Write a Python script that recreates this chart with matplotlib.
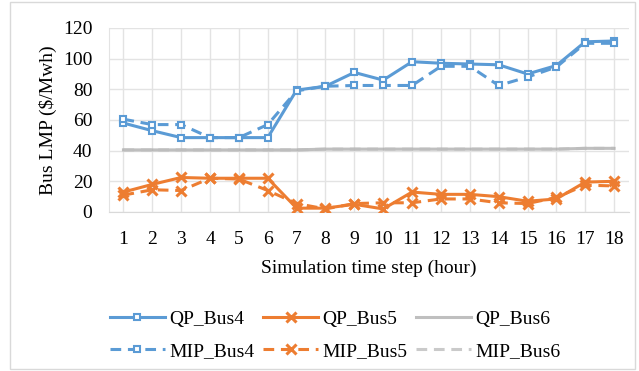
import matplotlib
matplotlib.use("Agg")
import matplotlib.pyplot as plt
import numpy as np

plt.rcParams['font.family'] = ['Liberation Serif', 'DejaVu Serif']

hours = list(range(1, 19))
qp_bus4 = [58, 53, 48.5, 48.5, 48.5, 48.5, 79.5, 82, 91, 86, 98, 97, 96.5, 96, 90, 95.5, 111, 111.5]
mip_bus4 = [60.5, 57, 57, 48.5, 48.5, 57, 79, 82, 82.5, 82.5, 82.5, 95, 95, 82.5, 88, 94.5, 110, 110]
qp_bus5 = [13, 18, 22.5, 22, 22, 22, 2.5, 2.5, 5, 2, 13, 11.5, 11.5, 10, 7, 8.5, 19.5, 20]
mip_bus5 = [11, 14.5, 14, 22, 21.5, 14, 5.5, 2, 5.5, 6, 6, 8.5, 8.5, 6, 5.5, 9.5, 17.5, 17]
qp_bus6 = [40.5] * 7 + [41] * 9 + [41.5] * 2
mip_bus6 = [40.5] * 7 + [41] * 9 + [41.5] * 2

blue, orange, grey = '#5b9bd5', '#ed7d31', '#a5a5a5'
dash = (0, (3.5, 2.2))
fs = 14

fig = plt.figure(figsize=(6.39, 3.71), dpi=100)
ax = fig.add_axes([0.1706, 0.4286, 0.813, 0.496])

lw = 2.2
h_qp4, = ax.plot(hours, qp_bus4, color=blue, lw=lw, marker='s', ms=5,
                 mfc='white', mec=blue, mew=1.5, label='QP_Bus4', zorder=4)
h_qp5, = ax.plot(hours, qp_bus5, color=orange, lw=lw, marker='x', ms=7,
                 mew=2.2, label='QP_Bus5', zorder=4)
h_qp6, = ax.plot(hours, qp_bus6, color=grey, lw=lw, alpha=0.7,
                 label='QP_Bus6', zorder=3)
h_mip4, = ax.plot(hours, mip_bus4, color=blue, lw=lw, ls=dash, marker='s', ms=5,
                  mfc='white', mec=blue, mew=1.5, label='MIP_Bus4', zorder=5)
h_mip5, = ax.plot(hours, mip_bus5, color=orange, lw=lw, ls=dash, marker='x', ms=7,
                  mew=2.2, label='MIP_Bus5', zorder=5)
h_mip6, = ax.plot(hours, mip_bus6, color='#bdbdbd', lw=lw, ls=dash, alpha=0.8,
                  label='MIP_Bus6', zorder=3)

ax.set_xlim(0.5, 18.5)
ax.set_ylim(0, 120)
ax.set_xticks(hours)
ax.set_yticks(np.arange(0, 121, 20))
ax.grid(True, color='#e3e3e3', lw=1)
ax.set_axisbelow(True)
for s in ['top', 'right']:
    ax.spines[s].set_visible(False)
ax.spines['left'].set_color('#e3e3e3')
ax.spines['bottom'].set_color('#d9d9d9')
ax.tick_params(length=0, labelsize=fs)
ax.tick_params(axis='y', pad=12)
ax.tick_params(axis='x', pad=14)
ax.set_xlabel('Simulation time step (hour)', fontsize=fs, labelpad=8)
ax.set_ylabel('Bus LMP ($/Mwh)', fontsize=fs, labelpad=4)

handles = [h_qp4, h_mip4, h_qp5, h_mip5, h_qp6, h_mip6]
fig.legend(handles, [h.get_label() for h in handles], ncol=3, loc='center',
           bbox_to_anchor=(0.525, 0.097), frameon=False, fontsize=fs,
           handlelength=2.8, columnspacing=0.45, handletextpad=0.25,
           labelspacing=0.75)

# chart area border
fig.patches.append(plt.Rectangle((0.015, 0.006), 0.978, 0.988, transform=fig.transFigure,
                                 fill=False, edgecolor='#d9d9d9', lw=1))

fig.savefig('out.png', dpi=100)
